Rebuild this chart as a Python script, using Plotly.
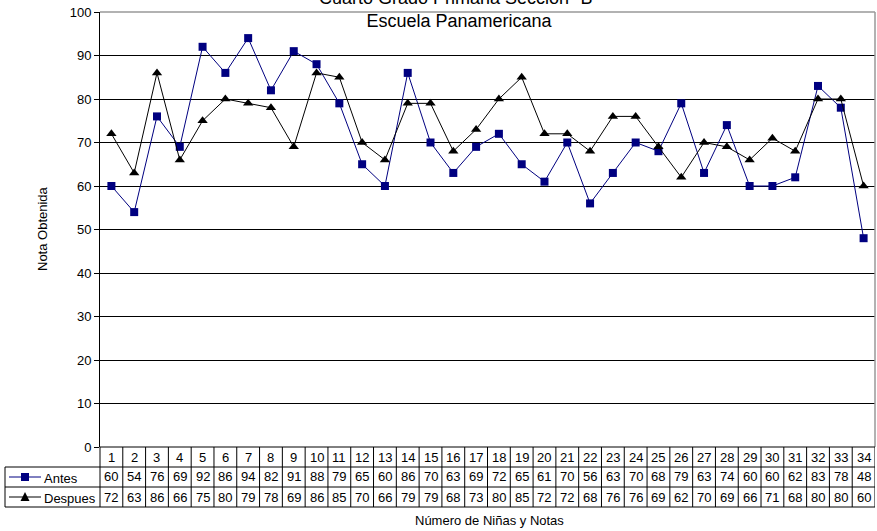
import plotly.graph_objects as go

ninas = list(range(1, 35))
antes = [60, 54, 76, 69, 92, 86, 94, 82, 91, 88, 79, 65, 60, 86, 70, 63, 69, 72, 65, 61,
         70, 56, 63, 70, 68, 79, 63, 74, 60, 60, 62, 83, 78, 48]
despues = [72, 63, 86, 66, 75, 80, 79, 78, 69, 86, 85, 70, 66, 79, 79, 68, 73, 80, 85, 72,
           72, 68, 76, 76, 69, 62, 70, 69, 66, 71, 68, 80, 80, 60]
y_ticks = list(range(0, 101, 10))

W, H = 877, 531
L, R, T, B = 100, 2, 12, 84
PW, PH = W - L - R, H - T - B
FONT = "Liberation Sans, Arial, sans-serif"


def px(x):
    return (x - L) / PW


def py(y):
    return (H - B - y) / PH


fig = go.Figure()
fig.add_trace(go.Scatter(x=ninas, y=antes, mode="lines+markers", name="Antes",
                         line=dict(color="#000080", width=1),
                         marker=dict(symbol="square", size=8, color="#000080")))
fig.add_trace(go.Scatter(x=ninas, y=despues, mode="lines+markers", name="Despues",
                         line=dict(color="#000000", width=1),
                         marker=dict(symbol="triangle-up", size=9, color="#000000")))

shapes = []
ann = []
# grey top / right border
shapes.append(dict(type="line", xref="paper", yref="paper", x0=0, x1=1, y0=1, y1=1,
                   line=dict(color="#999999", width=1.5)))
shapes.append(dict(type="line", xref="paper", yref="paper", x0=1, x1=1, y0=0, y1=1,
                   line=dict(color="#999999", width=1.5)))

# table rows (pixel y)
r0, r1, r2, r3 = 447, 467, 487, 507
tl = dict(color="#000000", width=1)
shapes.append(dict(type="line", xref="paper", yref="paper", x0=0, x1=1, y0=py(r0), y1=py(r0), line=tl))
for r in (r1, r2, r3):
    shapes.append(dict(type="line", xref="paper", yref="paper", x0=px(5), x1=1, y0=py(r), y1=py(r), line=tl))
shapes.append(dict(type="line", xref="paper", yref="paper", x0=px(5), x1=px(5), y0=py(r1), y1=py(r3), line=tl))
shapes.append(dict(type="line", xref="paper", yref="paper", x0=0, x1=0, y0=py(r0), y1=py(r3), line=tl))
for i in ninas:
    shapes.append(dict(type="line", xref="x", yref="paper", x0=i + 0.5, x1=i + 0.5,
                       y0=py(r0), y1=py(r3), line=tl))

cf = dict(family=FONT, size=13, color="#000000")


def note(x, y, text, xref="paper", xanchor="center", font=cf, **kw):
    ann.append(dict(x=x, y=y, xref=xref, yref="paper", text=text, xanchor=xanchor,
                    yanchor="middle", showarrow=False, font=font, **kw))


for i, a, d in zip(ninas, antes, despues):
    note(i, py((r0 + r1) / 2), str(i), xref="x")
    note(i, py((r1 + r2) / 2), str(a), xref="x")
    note(i, py((r2 + r3) / 2), str(d), xref="x")

# legend keys in table
ya, yd = (r1 + r2) / 2, (r2 + r3) / 2
shapes.append(dict(type="line", xref="paper", yref="paper", x0=px(9), x1=px(41), y0=py(ya), y1=py(ya),
                   line=dict(color="#000080", width=1)))
shapes.append(dict(type="rect", xref="paper", yref="paper", x0=px(21), x1=px(29), y0=py(ya - 4), y1=py(ya + 4),
                   fillcolor="#000080", line=dict(color="#000080", width=0)))
shapes.append(dict(type="line", xref="paper", yref="paper", x0=px(9), x1=px(41), y0=py(yd), y1=py(yd),
                   line=dict(color="#000000", width=1)))
shapes.append(dict(type="path", xref="paper", yref="paper",
                   path=f"M {px(20.5)} {py(yd + 4)} L {px(29.5)} {py(yd + 4)} L {px(25)} {py(yd - 5)} Z",
                   fillcolor="#000000", line=dict(color="#000000", width=0)))
note(px(42), py(ya + 1), "Antes", xanchor="left")
note(px(42), py(yd + 1), "Despues", xanchor="left")

# titles (two-line title, top line partly cut as in the reference)
tf = dict(family=FONT, size=18, color="#000000")
note(px(459), py(9.5), 'Cuarto Grado Primaria Sección "B"<br>Escuela Panamericana', font=tf)
note(px(490), py(520), "Número de Niñas y Notas")
note(px(42), py(228), "Nota Obtenida", textangle=-90)

fig.update_layout(
    width=W, height=H,
    margin=dict(l=L, r=R, t=T, b=B, pad=0),
    paper_bgcolor="#ffffff", plot_bgcolor="#ffffff",
    showlegend=False,
    font=dict(family=FONT, size=13, color="#000000"),
    xaxis=dict(range=[0.5, 34.5], showticklabels=False, showgrid=False, zeroline=False,
               showline=False, ticks=""),
    yaxis=dict(range=[0, 100], tickvals=y_ticks, ticks="outside", ticklen=5, tickcolor="#000000",
               showline=True, linecolor="#000000", linewidth=1, showgrid=True, gridcolor="#000000",
               gridwidth=1, zeroline=False, tickfont=dict(family=FONT, size=13, color="#000000")),
    shapes=shapes, annotations=ann,
)

fig.write_html("out.html", config={"displayModeBar": False},
               post_script="document.body.style.margin='0';document.body.style.padding='0';")
